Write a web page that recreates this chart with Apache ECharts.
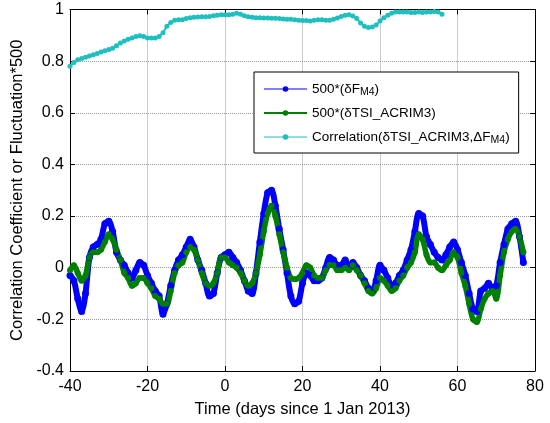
<!DOCTYPE html>
<html>
<head>
<meta charset="utf-8">
<script src="https://cdn.jsdelivr.net/npm/echarts@6/dist/echarts.min.js"></script>
<style>html,body{margin:0;padding:0;background:#fff}#c{width:550px;height:423px}</style>
</head>
<body>
<div id="c"></div>
<script>
// ---- data ----
var daysFM = [];
for (var d = -40; d <= 77; d++) daysFM.push(d);
var fm4 = [-0.03,-0.05,-0.12,-0.17,-0.10,0.04,0.08,0.09,0.11,0.17,0.18,0.14,0.06,0.03,0.01,-0.02,-0.04,-0.01,0.02,0.01,
 -0.03,-0.06,-0.09,-0.11,-0.18,-0.14,-0.07,-0.01,0.03,0.05,0.08,0.11,0.08,0.03,-0.01,-0.06,-0.11,-0.10,-0.02,0.04,
 0.05,0.06,0.04,0.02,-0.01,-0.05,-0.09,-0.10,-0.02,0.10,0.21,0.29,0.30,0.24,0.15,0.07,-0.02,-0.11,-0.14,-0.13,
 -0.06,-0.02,-0.03,-0.05,-0.05,-0.04,0.00,0.04,0.03,0.01,0.01,0.03,0.00,0.02,0.00,-0.03,-0.05,-0.08,-0.09,-0.05,
 0.01,-0.01,-0.04,-0.07,-0.06,-0.03,-0.01,0.03,0.07,0.14,0.21,0.20,0.12,0.09,0.06,0.04,0.03,0.05,0.08,0.10,
 0.07,0.02,-0.03,-0.10,-0.16,-0.17,-0.09,-0.08,-0.06,-0.08,-0.07,0.02,0.09,0.15,0.17,0.18,0.12,0.02];
var tsi = [-0.01,0.01,-0.02,-0.05,-0.03,0.04,0.06,0.06,0.07,0.10,0.13,0.11,0.07,0.03,-0.02,-0.04,-0.07,-0.06,-0.04,-0.04,
 -0.06,-0.08,-0.11,-0.12,-0.14,-0.14,-0.09,-0.02,0.01,0.02,0.06,0.08,0.07,0.03,-0.02,-0.06,-0.07,-0.06,-0.02,0.04,
 0.04,0.02,0.01,0.00,-0.02,-0.05,-0.07,-0.06,-0.02,0.05,0.14,0.21,0.24,0.20,0.13,0.06,0.00,-0.04,-0.045,-0.04,
 -0.02,0.01,0.00,-0.03,-0.04,-0.04,-0.01,0.01,0.01,-0.01,-0.01,0.00,-0.01,0.01,-0.01,-0.03,-0.06,-0.09,-0.10,-0.08,
 -0.04,-0.05,-0.07,-0.09,-0.08,-0.05,-0.03,0.00,0.02,0.06,0.13,0.11,0.05,0.02,0.02,0.00,-0.01,0.01,0.03,0.06,
 0.04,-0.02,-0.07,-0.14,-0.20,-0.21,-0.16,-0.12,-0.10,-0.09,-0.12,-0.03,0.06,0.11,0.14,0.15,0.12,0.06];
var daysCorr = [];
for (var e = -40; e <= 56; e++) daysCorr.push(e);
var corr = [0.78,0.795,0.805,0.81,0.815,0.82,0.825,0.83,0.835,0.84,0.845,0.85,0.86,0.87,0.878,0.885,0.89,0.895,0.898,0.895,
 0.89,0.89,0.89,0.895,0.91,0.935,0.95,0.958,0.96,0.96,0.965,0.968,0.97,0.971,0.972,0.972,0.973,0.976,0.978,0.98,
 0.98,0.98,0.982,0.985,0.982,0.976,0.972,0.97,0.968,0.968,0.967,0.967,0.966,0.966,0.965,0.963,0.962,0.962,0.96,0.958,
 0.957,0.957,0.955,0.958,0.96,0.96,0.958,0.958,0.962,0.967,0.973,0.978,0.98,0.975,0.965,0.948,0.935,0.93,0.932,0.94,
 0.955,0.968,0.978,0.985,0.99,0.99,0.99,0.99,0.988,0.988,0.99,0.988,0.99,0.99,0.992,0.99,0.982];
var seriesNames = ['500*(δF_M4)', '500*(δTSI_ACRIM3)', 'Correlation(δTSI_ACRIM3,ΔF_M4)'];
var legendLabels = ['500*(δF{sub|M4})', '500*(δTSI_ACRIM3)', 'Correlation(δTSI_ACRIM3,ΔF{sub|M4})'];
var xTicks = {min: -40, max: 80, step: 20};
var yTicks = {min: -0.4, max: 1, step: 0.2};

function pairs(xs, ys) { return xs.map(function (x, i) { return [x, ys[i]]; }); }
var FONT = 'Liberation Sans, Arial, sans-serif';
var chart = echarts.init(document.getElementById('c'), null, {renderer: 'canvas'});
var gridLine = {show: true, lineStyle: {color: '#9a9a9a', type: 'dotted', width: 1}};
var axLine = {show: true, onZero: false, lineStyle: {color: '#000', width: 1}};
var tick = {show: true, inside: true, length: 5, lineStyle: {color: '#000'}};
var labelMap = {};
seriesNames.forEach(function (n, i) { labelMap[n] = legendLabels[i]; });

chart.setOption({
  animation: false,
  backgroundColor: '#fff',
  grid: {left: 70, right: 15, top: 9.5, bottom: 49.5, containLabel: false},
  xAxis: [{
    type: 'value', min: xTicks.min, max: xTicks.max, interval: xTicks.step,
    name: 'Time (days since 1 Jan 2013)', nameLocation: 'middle', nameGap: 30,
    nameTextStyle: {fontSize: 16.5, fontFamily: FONT, color: '#000'},
    axisLine: axLine, axisTick: tick, splitLine: gridLine,
    axisLabel: {fontSize: 16, fontFamily: FONT, color: '#000', margin: 8}
  }, {
    type: 'value', position: 'top', min: xTicks.min, max: xTicks.max, interval: xTicks.step,
    axisLine: axLine, axisTick: tick, splitLine: {show: false}, axisLabel: {show: false}
  }],
  yAxis: [{
    type: 'value', min: yTicks.min, max: yTicks.max, interval: yTicks.step,
    name: 'Correlation Coefficient or Fluctuation*500', nameLocation: 'middle', nameGap: 39,
    nameTextStyle: {fontSize: 16.5, fontFamily: FONT, color: '#000'},
    axisLine: axLine, axisTick: tick, splitLine: gridLine,
    axisLabel: {fontSize: 16, fontFamily: FONT, color: '#000', margin: 6,
      formatter: function (v) { return String(Math.round(v * 10) / 10); }}
  }, {
    type: 'value', position: 'right', min: yTicks.min, max: yTicks.max, interval: yTicks.step,
    axisLine: axLine, axisTick: tick, splitLine: {show: false}, axisLabel: {show: false}
  }],
  legend: {
    orient: 'vertical', left: 254, top: 72,
    padding: [8, 9, 7, 9], itemGap: 6, itemWidth: 43, itemHeight: 7,
    backgroundColor: '#fff', borderColor: '#000', borderWidth: 1,
    data: seriesNames.map(function (n, i) {
      return {name: n, lineStyle: {width: i === 1 ? 2 : 1}};
    }),
    formatter: function (n) { return labelMap[n]; },
    textStyle: {fontSize: 13.5, fontFamily: FONT, color: '#000', lineHeight: 18,
      rich: {sub: {fontSize: 10.5, fontFamily: FONT, lineHeight: 10, verticalAlign: 'bottom', color: '#000'}}}
  },
  series: [{
    name: seriesNames[0], type: 'line', data: pairs(daysFM, fm4), smooth: 0.3,
    symbol: 'circle', symbolSize: 7, showSymbol: true,
    itemStyle: {color: '#0000ff'}, lineStyle: {color: '#0000ff', width: 6}
  }, {
    name: seriesNames[1], type: 'line', data: pairs(daysFM, tsi), smooth: 0.3,
    symbol: 'circle', symbolSize: 6, showSymbol: true,
    itemStyle: {color: '#008000'}, lineStyle: {color: '#008000', width: 5.5}
  }, {
    name: seriesNames[2], type: 'line', data: pairs(daysCorr, corr),
    symbol: 'circle', symbolSize: 5, showSymbol: true,
    itemStyle: {color: '#1fbfbf'}, lineStyle: {color: '#1fbfbf', width: 2}
  }]
});
</script>
</body>
</html>
